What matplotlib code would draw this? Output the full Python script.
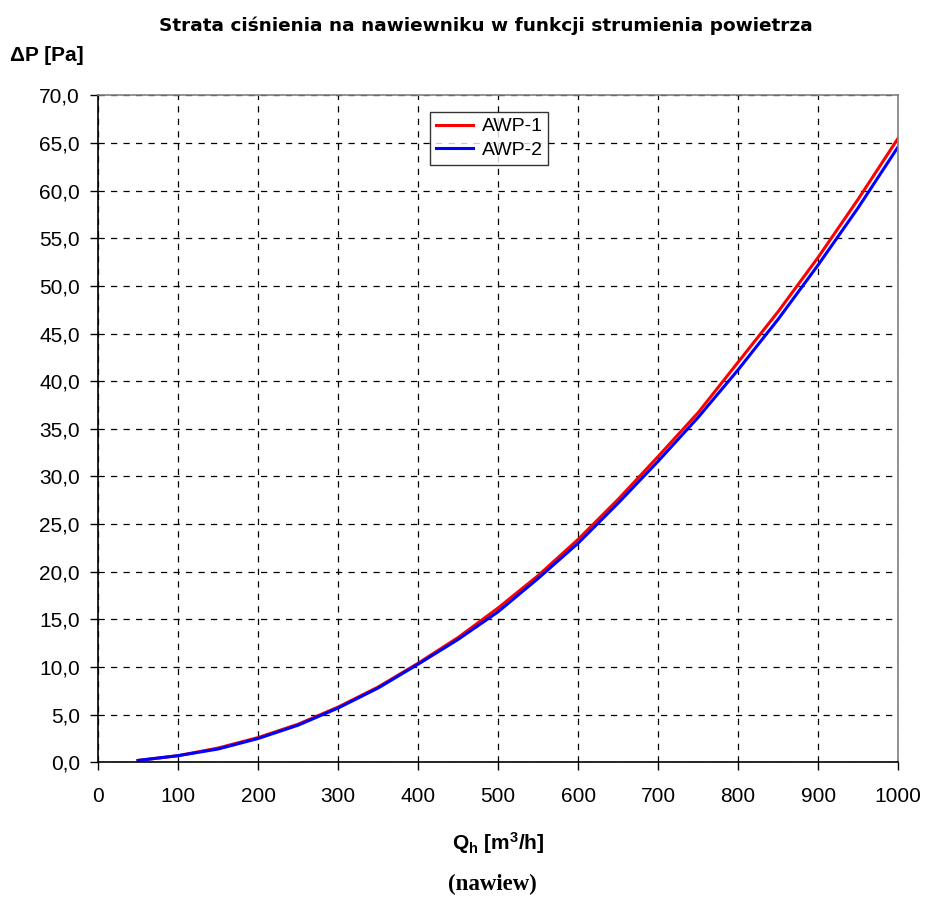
import matplotlib
matplotlib.use("Agg")
import matplotlib.pyplot as plt
from matplotlib.ticker import FuncFormatter

plt.rcParams['font.family'] = ['Liberation Sans', 'DejaVu Sans']
plt.rcParams['mathtext.fontset'] = 'custom'
plt.rcParams['mathtext.rm'] = 'Liberation Sans'
plt.rcParams['mathtext.bf'] = 'Liberation Sans:bold'
plt.rcParams['mathtext.it'] = 'Liberation Sans:italic'

# air flow [m3/h]
flow = [50, 100, 150, 200, 250, 300, 350, 400, 450, 500, 550, 600, 650,
        700, 750, 800, 850, 900, 950, 1000]
# pressure loss [Pa]
awp1 = [0.2, 0.7, 1.5, 2.6, 4.0, 5.8, 7.9, 10.4, 13.1, 16.2, 19.6, 23.4, 27.6,
        32.1, 36.7, 42.0, 47.3, 53.0, 59.1, 65.5]
awp2 = [0.2, 0.7, 1.4, 2.5, 3.9, 5.7, 7.8, 10.3, 12.9, 15.8, 19.3, 23.0, 27.2,
        31.6, 36.2, 41.2, 46.5, 52.2, 58.2, 64.6]
series_names = ['AWP-1', 'AWP-2']

fig = plt.figure(figsize=(9.25, 8.99), dpi=100)
ax = fig.add_axes([0.106, 0.152, 0.865, 0.742])

ax.plot(flow, awp1, color='#ff0000', lw=2.2, label=series_names[0])
ax.plot(flow, awp2, color='#0000ff', lw=2.2, label=series_names[1])

ax.set_xlim(0, 1000)
ax.set_ylim(0, 70)
ax.set_xticks(range(0, 1001, 100))
ax.set_yticks([i * 5 for i in range(15)])
ax.yaxis.set_major_formatter(FuncFormatter(lambda v, p: f"{v:.1f}".replace('.', ',')))
ax.tick_params(axis='both', labelsize=15, direction='out', length=6, width=1)
ax.tick_params(axis='x', pad=12)
ax.tick_params(axis='y', pad=7)

ax.grid(True, color='black', linestyle=(0, (5, 5)), linewidth=0.9)
ax.set_axisbelow(True)
ax.spines['left'].set_color('black')
ax.spines['bottom'].set_color('black')
ax.spines['top'].set_color('#808080')
ax.spines['right'].set_color('#808080')
for s in ax.spines.values():
    s.set_linewidth(1.2)

leg = ax.legend(loc='upper center', bbox_to_anchor=(0.489, 0.975), fontsize=14,
                frameon=True, fancybox=False, handlelength=1.9, borderpad=0.3,
                labelspacing=0.3, handletextpad=0.45, borderaxespad=0)
leg.get_frame().set_edgecolor('black')
leg.get_frame().set_linewidth(1.0)

fig.text(0.525, 0.971, 'Strata ciśnienia na nawiewniku w funkcji strumienia powietrza',
         ha='center', va='center', fontsize=13.3, fontweight='bold',
         family=['DejaVu Sans'])
fig.text(0.011, 0.938, 'ΔP [Pa]', ha='left', va='center', fontsize=15, fontweight='bold')
fig.text(0.539, 0.062, r'$\mathbf{Q_h\ [m^3/h]}$', ha='center', va='center', fontsize=15)
fig.text(0.532, 0.016, '(nawiew)', ha='center', va='center', fontsize=16.5,
         fontweight='bold', family=['Liberation Serif', 'DejaVu Serif'])

fig.savefig('out.png', dpi=100)
